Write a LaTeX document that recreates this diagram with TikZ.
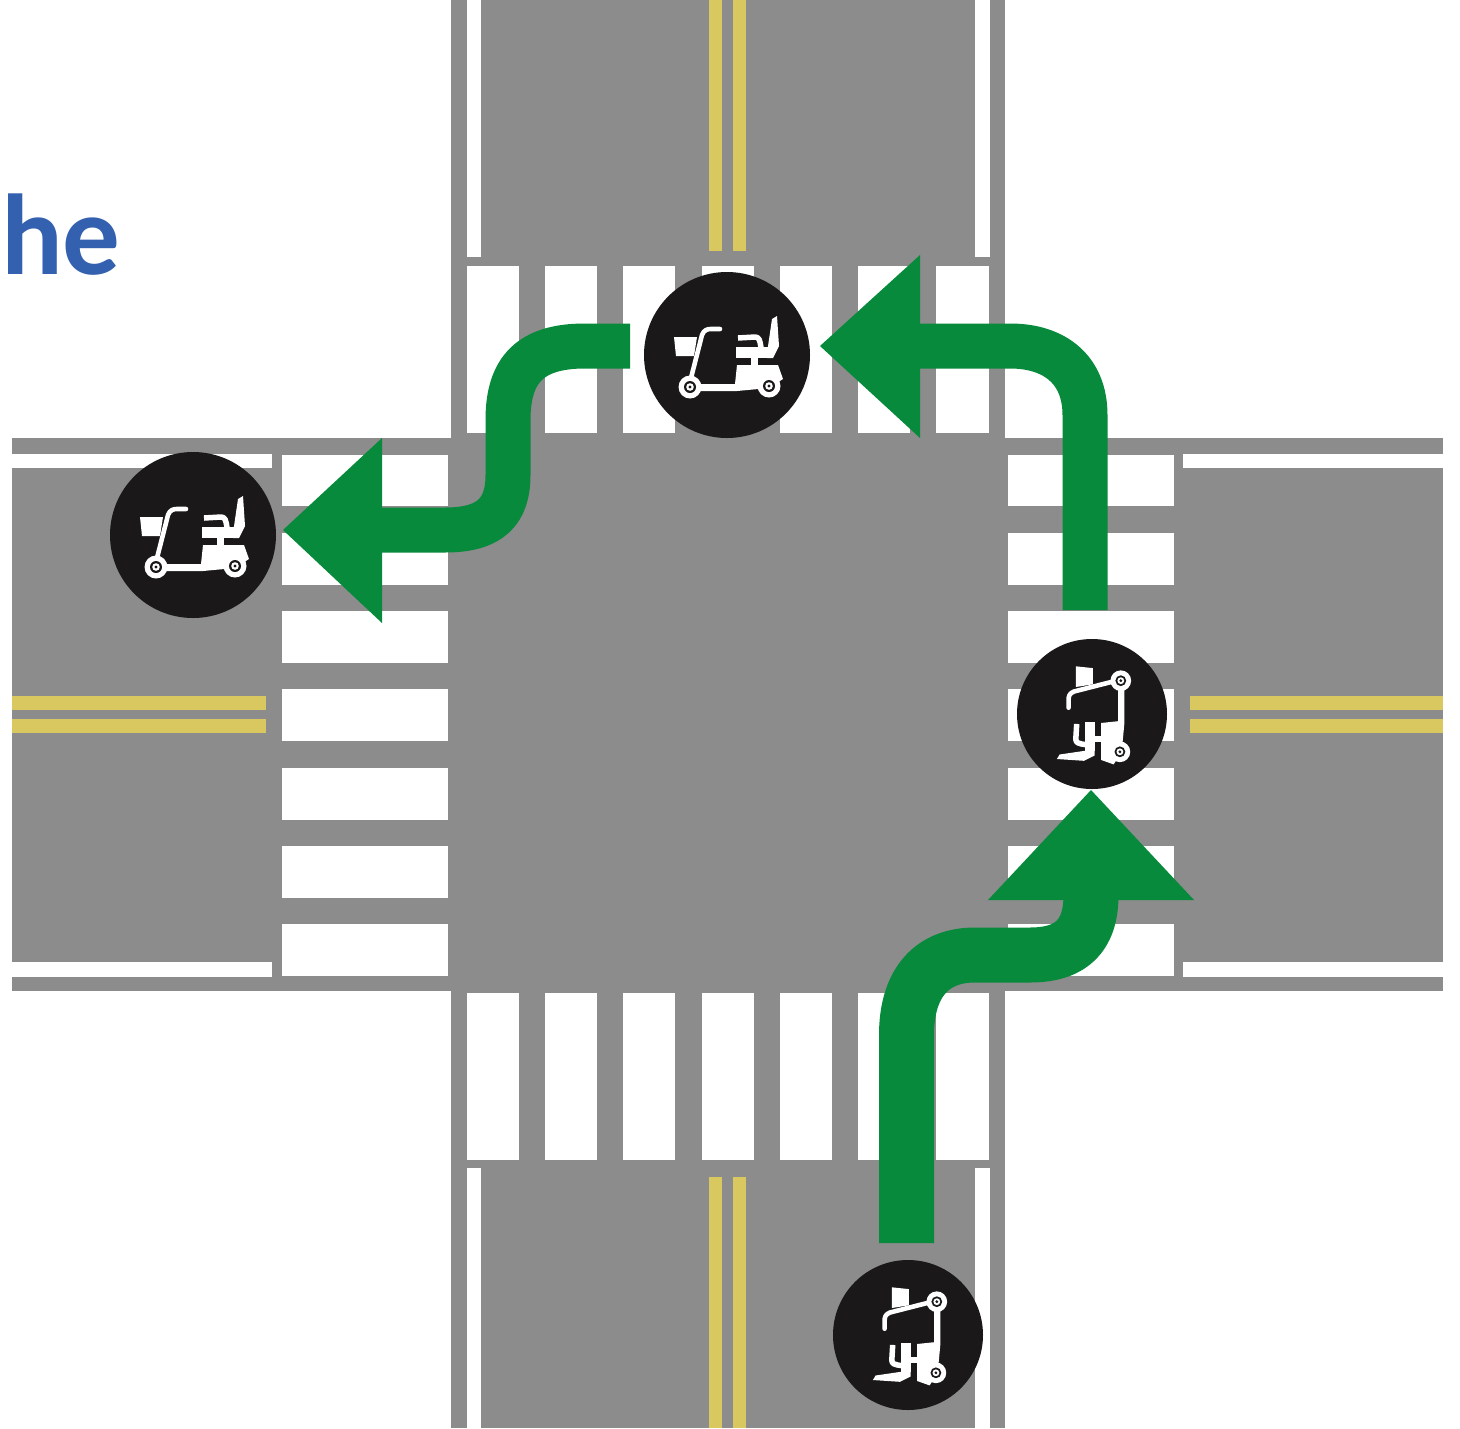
\documentclass[tikz,border=0pt]{standalone}
\usepackage{fontspec}
\setmainfont{Carlito}
\definecolor{roadgray}{HTML}{8C8C8C}
\definecolor{laneyellow}{HTML}{D9C75F}
\definecolor{arrowgreen}{HTML}{078A3C}
\definecolor{discblack}{HTML}{1A1818}
\definecolor{titleblue}{HTML}{3460B0}
\newcommand{\wheelshape}[2]{%
  \fill[white] (#1,#2) circle (11.5);
  \fill[discblack] (#1,#2) circle (6);
  \fill[white] (#1,#2) circle (3.8);
  \fill[discblack] (#1,#2) circle (1.7);
}
\newcommand{\scootershape}{%
  \fill[white] (-53,-18) -- (-30,-18) -- (-33,1) -- (-51,1) -- cycle;
  \draw[white,line width=4.6,line cap=round,line join=round] (-36,23) -- (-25,-20) .. controls (-23,-25) and (-20,-26) .. (-16,-26) -- (-7,-26);
  \fill[white] (10,10) -- (51,10) -- (56,24) -- (42,33) -- (10,36) -- (-37,36) -- (-37,29) -- (8,29) -- cycle;
  \wheelshape{-37}{32}
  \wheelshape{42}{31}
  \fill[white] (9,-8) -- (41,-8) -- (41,3) -- (9,3) -- cycle;
  \fill[white] (40,-2) -- (45,-36) -- (50,-39) -- (52,-9) -- (46,3) -- (40,3) -- cycle;
  \draw[white,line width=5.5,line join=round] (11,-17) -- (28,-18) .. controls (32,-18) and (33,-15) .. (34,-7);
  \fill[white] (24,2) rectangle (31,10);
}
\tikzset{
  x=1pt,y=-1pt,
  roadbed/.style={fill=roadgray},
  bar/.style={fill=white},
  lane/.style={fill=laneyellow},
  shaft/.style={draw=arrowgreen,line cap=butt,line join=round},
  head/.style={fill=arrowgreen},
  disc/.style={circle,fill=discblack,inner sep=0pt,minimum size=#1}
}
\begin{document}
\begin{tikzpicture}
\useasboundingbox (0,0) rectangle (1460,1428);
\fill[white] (0,0) rectangle (1460,1428);
% roads
\fill[roadbed] (451,0) rectangle (1005,1428);
\fill[roadbed] (12,438) rectangle (1443,991);
% edge lines
\fill[bar] (467,0) rectangle (481,257);
\fill[bar] (975,0) rectangle (990,257);
\fill[bar] (467,1168) rectangle (481,1428);
\fill[bar] (975,1168) rectangle (990,1428);
\fill[bar] (12,454) rectangle (272,468);
\fill[bar] (12,962) rectangle (272,977);
\fill[bar] (1183,454) rectangle (1443,468);
\fill[bar] (1183,962) rectangle (1443,977);
% crosswalks
\foreach \a/\b in {467/519,545/597,623/675,702/754,780/832,858/910,936/989}{
  \fill[bar] (\a,266) rectangle (\b,433);
  \fill[bar] (\a,993) rectangle (\b,1160);
}
\foreach \a/\b in {455/506,533/585,611/663,689/741,768/820,846/898,924/976}{
  \fill[bar] (282,\a) rectangle (448,\b);
  \fill[bar] (1008,\a) rectangle (1174,\b);
}
% centre lines
\fill[lane] (709,0) rectangle (722,251);
\fill[lane] (733,0) rectangle (746,251);
\fill[lane] (709,1177) rectangle (722,1428);
\fill[lane] (733,1177) rectangle (746,1428);
\fill[lane] (12,696) rectangle (266,710);
\fill[lane] (12,719) rectangle (266,733);
\fill[lane] (1190,696) rectangle (1443,710);
\fill[lane] (1190,719) rectangle (1443,733);
% title fragment
\node[anchor=base west,inner sep=0pt,text=titleblue,font=\fontsize{115}{115}\selectfont\bfseries] (title) at (-4,274) {\hspace*{5pt}he};
% discs
\node[disc=166pt] (scootA) at (727,355) {};
\node[disc=166pt] (scootB) at (193,535) {};
\node[disc=150pt] (scootC) at (1092,714) {};
\node[disc=150pt] (scootD) at (908,1335) {};
\begin{scope}[shift={(727,355)}]\scootershape\end{scope}
\begin{scope}[shift={(193,535)}]\scootershape\end{scope}
\begin{scope}[shift={(1092,714)},cm={0,-.9,-.9,0,(0,0)}]\scootershape\end{scope}
\begin{scope}[shift={(908,1335)},cm={0,-.9,-.9,0,(0,0)}]\scootershape\end{scope}
% arrows
\draw[shaft,line width=55] (906.5,1243) -- (906.5,1035) .. controls (906.5,985) and (930,955) .. (975,955) -- (1030,955) .. controls (1072,955) and (1091,935) .. (1091,895);
\fill[head] (1091,790) -- (1194,900) -- (988,900) -- cycle;
\draw[shaft,line width=45] (1085,610) -- (1085,415) .. controls (1085,370) and (1055,346) .. (1010,346) -- (905,346);
\fill[head] (820,346) -- (920,255) -- (920,438) -- cycle;
\draw[shaft,line width=45] (630,346) -- (585,346) .. controls (530,346) and (508,370) .. (508,420) -- (508,475) .. controls (508,512) and (490,530) .. (445,530) -- (370,530);
\fill[head] (283,530) -- (382,438) -- (382,623) -- cycle;
\end{tikzpicture}
\end{document}
